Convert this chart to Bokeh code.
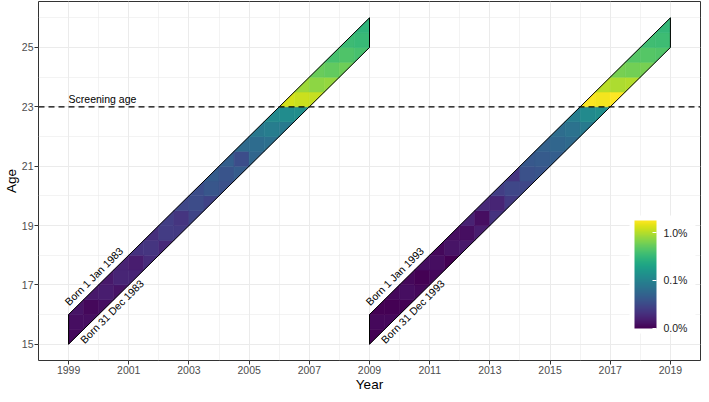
import numpy as np
from bokeh.plotting import figure
from bokeh.models import (ColumnDataSource, LogColorMapper, ColorBar, FixedTicker,
                          PrintfTickFormatter, Span, Range1d)
from bokeh.palettes import Viridis256
from bokeh.transform import transform
from bokeh.core.properties import value
from bokeh.embed import file_html
from bokeh.resources import INLINE

# ---------------- data ----------------
birth_years = [1983, 1993]
start_years = [1999, 2009]
start_age = 15
n_years = 10
screening_age = 23
x_ticks = [1999, 2001, 2003, 2005, 2007, 2009, 2011, 2013, 2015, 2017, 2019]
y_ticks = [15, 17, 19, 21, 23, 25]
legend_ticks = [0.01, 0.1, 1.0]   # percent

# rate (%) per half-year column: [lower triangle, square, upper triangle]
rate_1983 = [
    [0.011, 0.012, 0.013],
    [0.012, 0.011, 0.014],
    [0.012, 0.015, 0.014],
    [0.013, 0.017, 0.016],
    [0.017, 0.015, 0.021],
    [0.019, 0.022, 0.020],
    [0.018, 0.025, 0.026],
    [0.024, 0.022, 0.030],
    [0.029, 0.033, 0.034],
    [0.028, 0.040, 0.045],
    [0.036, 0.038, 0.048],
    [0.045, 0.034, 0.060],
    [0.055, 0.062, 0.080],
    [0.068, 0.090, 0.115],
    [0.085, 0.125, 1.30],
    [0.13, 1.20, 0.85],
    [1.15, 0.75, 0.55],
    [0.80, 0.52, 0.40],
    [0.58, 0.43, 0.35],
    [0.40, 0.33, 0.30],
]
rate_1993 = [
    [0.010, 0.011, 0.010],
    [0.011, 0.010, 0.011],
    [0.010, 0.012, 0.011],
    [0.011, 0.010, 0.012],
    [0.011, 0.012, 0.011],
    [0.010, 0.013, 0.012],
    [0.014, 0.012, 0.016],
    [0.015, 0.012, 0.018],
    [0.021, 0.017, 0.026],
    [0.024, 0.030, 0.022],
    [0.030, 0.036, 0.041],
    [0.038, 0.044, 0.050],
    [0.047, 0.055, 0.064],
    [0.060, 0.070, 0.090],
    [0.085, 0.120, 1.75],
    [0.13, 1.65, 1.05],
    [1.80, 0.95, 0.62],
    [1.00, 0.60, 0.46],
    [0.62, 0.46, 0.37],
    [0.44, 0.36, 0.32],
]
rates = [rate_1983, rate_1993]

# ---------------- build Lexis cells ----------------
xs, ys, vals = [], [], []
for y0, b, rate in zip(start_years, birth_years, rates):
    for k, (lo, sq, hi) in enumerate(rate):
        x0 = y0 + 0.5 * k
        a0 = y0 - (b + 1) + 0.5 * k
        xs.append([x0, x0, x0 + 0.5]); ys.append([a0, a0 + 0.5, a0 + 0.5]); vals.append(lo)
        xs.append([x0, x0, x0 + 0.5, x0 + 0.5]); ys.append([a0 + 0.5, a0 + 1, a0 + 1, a0 + 0.5]); vals.append(sq)
        xs.append([x0, x0 + 0.5, x0 + 0.5]); ys.append([a0 + 1, a0 + 1, a0 + 1.5]); vals.append(hi)

src = ColumnDataSource(dict(xs=xs, ys=ys, rate=vals))
mapper = LogColorMapper(palette=Viridis256, low=0.0098, high=1.82)

p = figure(width=701, height=394, x_range=Range1d(1998, 2020), y_range=Range1d(14.45, 26.55),
           output_backend="svg", toolbar_location=None,
           min_border_left=0, min_border_right=1, min_border_top=1, min_border_bottom=0)
p.background_fill_color = "white"
p.border_fill_color = "white"
p.outline_line_color = "#333333"
p.outline_line_width = 1

p.patches("xs", "ys", source=src, fill_color=transform("rate", mapper),
          line_color=transform("rate", mapper), line_width=0.6)

# band outlines
for y0, b in zip(start_years, birth_years):
    bx = [y0, y0, y0 + n_years, y0 + n_years]
    by = [y0 - (b + 1), y0 - b, y0 + n_years - b, y0 + n_years - (b + 1)]
    p.patch(bx, by, fill_color=None, line_color="black", line_width=1)

# screening age line
p.add_layout(Span(location=screening_age, dimension="width", line_color="black",
                  line_dash="6 4", line_width=1.3))

font = value("Liberation Sans")
p.text(x=[start_years[0]], y=[screening_age + 0.06], text=["Screening age"],
       text_font=font, text_font_size=value("10.5px"), text_color="black",
       text_align="left", text_baseline="bottom")

# labels along the cohort lines
up_x, up_y, up_t = [], [], []
lo_x, lo_y, lo_t = [], [], []
for y0, b in zip(start_years, birth_years):
    up_x.append(y0 + 0.07); up_y.append(y0 - b + 0.23); up_t.append(f"Born 1 Jan {b}")
    lo_x.append(y0 + 0.3); lo_y.append(y0 - (b + 1) + 0.24); lo_t.append(f"Born 31 Dec {b}")
p.text(x=up_x, y=up_y, text=up_t, angle=np.pi / 4, text_font=font,
       text_font_size=value("10.5px"), text_color="black",
       text_align="left", text_baseline="bottom")
p.text(x=lo_x, y=lo_y, text=lo_t, angle=np.pi / 4, text_font=font,
       text_font_size=value("10.5px"), text_color="black",
       text_align="left", text_baseline="top")

# axes
p.xaxis.ticker = FixedTicker(ticks=x_ticks, minor_ticks=[t + 1 for t in x_ticks[:-1]])
p.yaxis.ticker = FixedTicker(ticks=y_ticks, minor_ticks=[t + 1 for t in y_ticks])
p.xaxis.axis_label = "Year"
p.yaxis.axis_label = "Age"
for ax in (p.xaxis, p.yaxis):
    ax.axis_line_color = None
    ax.major_tick_line_color = "#333333"
    ax.major_tick_out = 4
    ax.major_tick_in = 0
    ax.minor_tick_line_color = None
    ax.major_label_text_font = "Liberation Sans"
    ax.major_label_text_font_size = "10.5px"
    ax.major_label_text_color = "#4d4d4d"
    ax.major_label_standoff = 1
    ax.axis_label_text_font = "Liberation Sans"
    ax.axis_label_text_font_size = "13.5px"
    ax.axis_label_text_font_style = "normal"
    ax.axis_label_text_color = "black"
    ax.axis_label_standoff = 0

for g in (p.xgrid, p.ygrid):
    g.grid_line_color = "#ebebeb"
    g.grid_line_width = 1
    g.minor_grid_line_color = "#ebebeb"
    g.minor_grid_line_width = 0.6

cb = ColorBar(color_mapper=mapper, ticker=FixedTicker(ticks=legend_ticks),
              formatter=PrintfTickFormatter(format="%.1f%%"),
              width=22, height=108, location=(591, 27), padding=5,
              label_standoff=7, major_label_text_font="Liberation Sans",
              major_label_text_font_size="10.5px", major_label_text_color="#1a1a1a",
              major_tick_line_color="white", major_tick_in=4, major_tick_out=0,
              minor_tick_line_color=None, bar_line_color=None,
              border_line_color=None, background_fill_color="white")
p.add_layout(cb, "center")

open("out.html", "w").write(file_html(p, INLINE))
